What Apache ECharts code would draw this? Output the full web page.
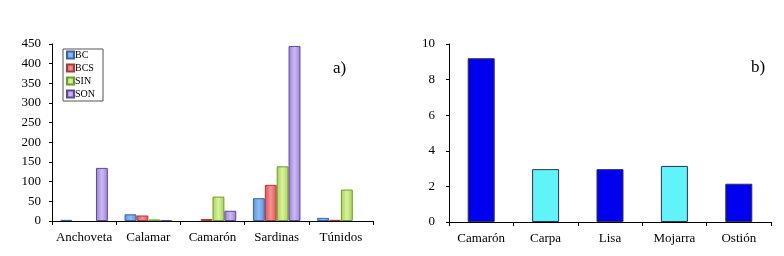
<!DOCTYPE html>
<html>
<head>
<meta charset="utf-8">
<script src="https://cdn.jsdelivr.net/npm/echarts@6/dist/echarts.min.js"></script>
<style>
html, body { margin: 0; padding: 0; background: #fff; }
#main { width: 784px; height: 256px; }
</style>
</head>
<body>
<div id="main"></div>
<script>
// panel a) - species by state (null = sin dato)
var speciesA = ['Anchoveta', 'Calamar', 'Camarón', 'Sardinas', 'Túnidos'];
var states = ['BC', 'BCS', 'SIN', 'SON'];
var valBC  = [3, 17, null, 58, 8];
var valBCS = [null, 14, 5, 92, 3];
var valSIN = [null, 4, 62, 139, 80];
var valSON = [135, 2, 26, 445, null];
var ticksA = [0, 50, 100, 150, 200, 250, 300, 350, 400, 450];

// panel b)
var speciesB = ['Camarón', 'Carpa', 'Lisa', 'Mojarra', 'Ostión'];
var valB = [9.2, 2.97, 2.97, 3.15, 2.15];
var ticksB = [0, 2, 4, 6, 8, 10];

var serif = '"Liberation Serif", "Times New Roman", serif';

// colores tipo excel (degradado)
function grad(c1, c2) {
    return new echarts.graphic.LinearGradient(0, 0, 1, 0, [
        { offset: 0, color: c1 },
        { offset: 0.5, color: c2 },
        { offset: 1, color: c1 }
    ]);
}
var fills = [
    grad('#5b92e4', '#8ebcf4'),
    grad('#e45050', '#f49494'),
    grad('#a6d44c', '#d8f2a0'),
    grad('#9a80d8', '#cbbaf2')
];
var borders = ['#3a64a8', '#a83a3a', '#6e9a2a', '#5e4896'];
var stateData = [valBC, valBCS, valSIN, valSON];

var axisLineStyle = { lineStyle: { color: '#000', width: 1 } };
var labelStyle = { color: '#000', fontFamily: serif, fontSize: 13 };

var series = [];
for (var i = 0; i < states.length; i++) {
    series.push({
        name: states[i],
        type: 'bar',
        xAxisIndex: 0,
        yAxisIndex: 0,
        barGap: '0%',
        barCategoryGap: '26%',
        data: stateData[i],
        itemStyle: { color: fills[i], borderColor: borders[i], borderWidth: 1 }
    });
}
series.push({
    name: 'b',
    type: 'bar',
    xAxisIndex: 1,
    yAxisIndex: 1,
    barWidth: 27,
    data: valB,
    itemStyle: {
        color: function (p) { return p.dataIndex % 2 == 0 ? '#0000f0' : '#60f4f8'; },
        borderColor: '#303050',
        borderWidth: 1
    }
});

var chart = echarts.init(document.getElementById('main'), null, { renderer: 'canvas' });
chart.setOption({
    animation: false,
    backgroundColor: '#fff',
    grid: [
        { left: 52, top: 44, width: 321, height: 177 },
        { left: 449, top: 44, width: 322, height: 178 }
    ],
    legend: {
        data: states,
        orient: 'vertical',
        left: 63,
        top: 49,
        padding: [1, 8, 2, 3],
        itemGap: 3,
        itemWidth: 7,
        itemHeight: 7,
        icon: 'rect',
        borderColor: '#555',
        borderWidth: 1,
        textStyle: { fontFamily: serif, fontSize: 10, color: '#000', padding: [0, 0, 0, -4] }
    },
    xAxis: [
        {
            type: 'category', gridIndex: 0, data: speciesA,
            axisLine: axisLineStyle,
            axisTick: { show: true, length: 4, lineStyle: { color: '#000' } },
            axisLabel: Object.assign({ margin: 10, interval: 0 }, labelStyle)
        },
        {
            type: 'category', gridIndex: 1, data: speciesB,
            axisLine: axisLineStyle,
            axisTick: { show: true, length: 4, lineStyle: { color: '#000' } },
            axisLabel: Object.assign({ margin: 10, interval: 0 }, labelStyle)
        }
    ],
    yAxis: [
        {
            type: 'value', gridIndex: 0, min: ticksA[0], max: ticksA[ticksA.length - 1], interval: 50,
            axisLine: Object.assign({ show: true }, axisLineStyle),
            axisTick: { show: true, length: 3, lineStyle: { color: '#000' } },
            splitLine: { show: false },
            axisLabel: Object.assign({ margin: 11 }, labelStyle)
        },
        {
            type: 'value', gridIndex: 1, min: ticksB[0], max: ticksB[ticksB.length - 1], interval: 2,
            axisLine: Object.assign({ show: true }, axisLineStyle),
            axisTick: { show: true, length: 3, lineStyle: { color: '#000' } },
            splitLine: { show: false },
            axisLabel: Object.assign({ margin: 14 }, labelStyle)
        }
    ],
    graphic: [
        { type: 'text', left: 333, top: 60, style: { text: 'a)', font: '17px ' + serif, fill: '#000' } },
        { type: 'text', left: 751, top: 59, style: { text: 'b)', font: '17px ' + serif, fill: '#000' } }
    ],
    series: series
});
</script>
</body>
</html>
